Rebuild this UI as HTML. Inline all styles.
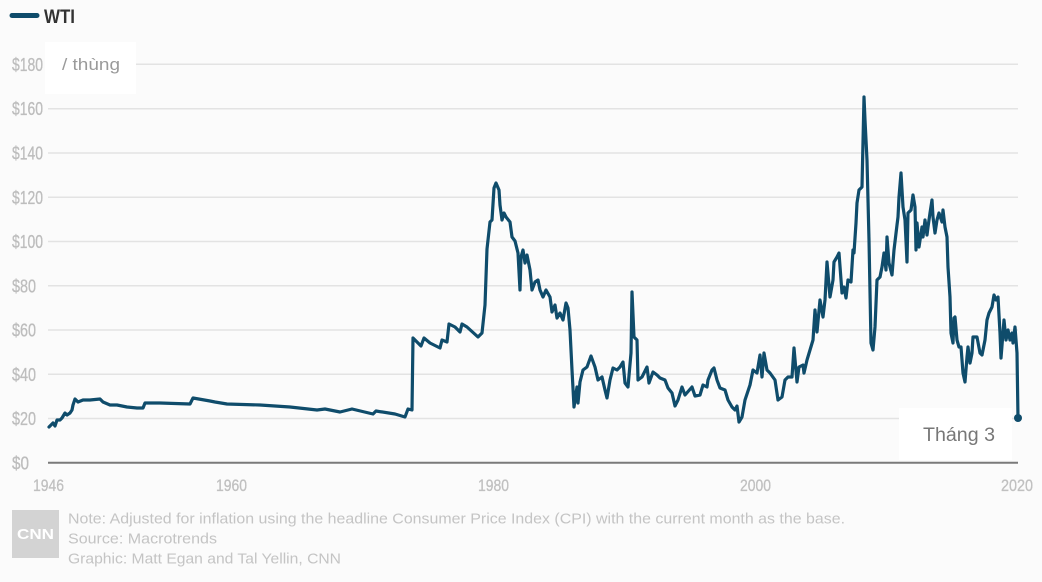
<!DOCTYPE html>
<html>
<head>
<meta charset="utf-8">
<style>
html,body{margin:0;padding:0;background:#fbfbfb;}
svg{display:block;}
</style>
</head>
<body>
<svg width="1042" height="582" viewBox="0 0 1042 582" xmlns="http://www.w3.org/2000/svg">
<rect x="0" y="0" width="1042" height="582" fill="#fbfbfb"/>
<!-- legend -->
<line x1="12" y1="15.5" x2="37" y2="15.5" stroke="#0f4c6b" stroke-width="5" stroke-linecap="round"/>
<text x="44" y="23" font-family="'Liberation Sans Narrow','Liberation Sans',sans-serif" font-weight="bold" font-size="19" fill="#333" textLength="31" lengthAdjust="spacingAndGlyphs">WTI</text>

<!-- gridlines -->
<g stroke="#e3e3e3" stroke-width="1.5">
<line x1="48" y1="64.3" x2="1018" y2="64.3"/>
<line x1="48" y1="108.7" x2="1018" y2="108.7"/>
<line x1="48" y1="153" x2="1018" y2="153"/>
<line x1="48" y1="197.3" x2="1018" y2="197.3"/>
<line x1="48" y1="241.5" x2="1018" y2="241.5"/>
<line x1="48" y1="285.8" x2="1018" y2="285.8"/>
<line x1="48" y1="330" x2="1018" y2="330"/>
<line x1="48" y1="374.3" x2="1018" y2="374.3"/>
<line x1="48" y1="418.5" x2="1018" y2="418.5"/>
</g>

<!-- unit box -->
<rect x="45" y="42" width="91" height="52" fill="#ffffff"/>
<text x="62" y="70" font-family="'Liberation Sans',sans-serif" font-size="17" fill="#9a9a9a" textLength="58" lengthAdjust="spacingAndGlyphs">/ thùng</text>

<!-- y labels -->
<g font-family="'Liberation Sans Narrow','Liberation Sans',sans-serif" font-size="18" fill="#bdbdbd" stroke="#bdbdbd" stroke-width="0.3">
<text x="12" y="70.8" textLength="31" lengthAdjust="spacingAndGlyphs">$180</text>
<text x="12" y="115.2" textLength="31" lengthAdjust="spacingAndGlyphs">$160</text>
<text x="12" y="159.5" textLength="31" lengthAdjust="spacingAndGlyphs">$140</text>
<text x="12" y="203.8" textLength="31" lengthAdjust="spacingAndGlyphs">$120</text>
<text x="12" y="248" textLength="31" lengthAdjust="spacingAndGlyphs">$100</text>
<text x="12" y="292.3" textLength="24" lengthAdjust="spacingAndGlyphs">$80</text>
<text x="12" y="336.5" textLength="24" lengthAdjust="spacingAndGlyphs">$60</text>
<text x="12" y="380.8" textLength="24" lengthAdjust="spacingAndGlyphs">$40</text>
<text x="12" y="425" textLength="24" lengthAdjust="spacingAndGlyphs">$20</text>
<text x="12" y="469.3" textLength="17" lengthAdjust="spacingAndGlyphs">$0</text>
</g>

<!-- Thang 3 box -->
<rect x="899" y="408" width="113" height="52" fill="#ffffff"/>
<text x="923" y="441" font-family="'Liberation Sans',sans-serif" font-size="19" fill="#777" textLength="72" lengthAdjust="spacingAndGlyphs">Tháng 3</text>

<!-- baseline -->
<line x1="48" y1="462.7" x2="1018" y2="462.7" stroke="#7a7a7a" stroke-width="2"/>

<!-- x labels -->
<g font-family="'Liberation Sans Narrow','Liberation Sans',sans-serif" font-size="16.5" fill="#c0c0c0" stroke="#c0c0c0" stroke-width="0.3">
<text x="33" y="491" textLength="31" lengthAdjust="spacingAndGlyphs">1946</text>
<text x="216" y="491" textLength="31" lengthAdjust="spacingAndGlyphs">1960</text>
<text x="478" y="491" textLength="31" lengthAdjust="spacingAndGlyphs">1980</text>
<text x="740" y="491" textLength="31" lengthAdjust="spacingAndGlyphs">2000</text>
<text x="1001" y="491" textLength="32" lengthAdjust="spacingAndGlyphs">2020</text>
</g>

<!-- series -->
<polyline fill="none" stroke="#0f4c6b" stroke-width="3.2" stroke-linejoin="round" stroke-linecap="round" points="
49,427 53,423 55,426 57,420 60,420 62,418 65,413 67,415 70,413 72,410 73,405 75,399 78,402 83,400 90,400 100,399 103,402 110,405 117,405 127,407 137,408 143,408 145,403 160,403 190,404 193,398 210,401 215,402 227,404 260,405 290,407 317,410 325,409 340,412 352,409 373,414 376,411 395,414 405,417 408,409 412,410 413,338 416,341 421,346 424,338 430,343 440,348 442,340 447,342 449,324 455,327 460,332 462,324 467,327 478,337 482,333 485,305 487,249 490,222 492,220 494,188 496,183 499,190 500,205 502,220 504,213 506,217 510,222 512,237 515,241 518,253 520,290 521,257 523,250 525,263 527,255 530,270 532,290 535,282 538,280 540,290 543,297 546,290 550,297 552,312 555,305 557,318 560,313 563,320 566,303 568,308 570,330 572,370 574,407 577,387 578,403 580,382 583,370 587,367 591,356 595,367 598,380 602,377 605,390 607,398 610,380 613,368 617,370 620,367 623,362 625,383 628,387 631,353 632,292 634,337 637,340 638,380 642,377 647,367 649,383 653,372 657,375 660,378 665,380 668,388 672,393 675,406 678,400 682,387 685,395 692,387 695,396 700,395 703,385 707,387 708,380 712,370 714,368 717,380 720,388 725,390 728,400 732,407 735,410 737,406 739,422 742,417 745,400 750,385 753,370 757,373 760,355 762,377 764,353 767,370 770,373 775,380 778,400 782,397 785,380 788,377 792,377 794,348 797,382 799,367 803,365 804,373 807,360 810,350 813,340 815,310 817,332 820,300 823,317 825,300 827,262 830,297 833,280 834,262 837,257 839,253 842,293 844,287 846,298 848,280 851,282 853,250 854,253 856,223 857,203 859,190 862,187 864,97 865,120 867,160 869,240 871,343 873,350 875,327 877,280 880,277 882,267 884,253 886,270 887,237 889,263 892,275 894,250 897,225 898,217 899,197 901,173 903,207 905,220 907,262 908,213 911,210 913,195 915,207 916,250 917,223 919,247 922,227 923,237 925,220 927,235 928,227 930,213 932,200 933,217 935,233 937,220 939,213 942,222 943,210 945,227 947,237 948,267 950,297 951,333 953,343 954,318 955,317 957,340 959,347 961,347 963,373 965,382 967,357 968,347 970,363 972,353 973,337 977,337 980,353 982,355 985,340 987,320 989,313 992,307 994,295 996,300 998,297 1000,333 1001,358 1003,333 1004,320 1006,340 1008,330 1010,340 1012,333 1013,343 1015,327 1017,353 1018,418"/>
<circle cx="1018" cy="418" r="4" fill="#0f4c6b"/>

<!-- footer -->
<rect x="12" y="510" width="47" height="48" fill="#d3d3d3"/>
<text x="35.5" y="539" text-anchor="middle" font-family="'Liberation Sans',sans-serif" font-weight="bold" font-size="15" fill="#ffffff" textLength="37" lengthAdjust="spacingAndGlyphs">CNN</text>
<g font-family="'Liberation Sans',sans-serif" font-size="14.5" fill="#c4c4c4">
<text x="68" y="523.5" textLength="777" lengthAdjust="spacingAndGlyphs">Note: Adjusted for inflation using the headline Consumer Price Index (CPI) with the current month as the base.</text>
<text x="68" y="543.5" textLength="149" lengthAdjust="spacingAndGlyphs">Source: Macrotrends</text>
<text x="68" y="563.5" textLength="273" lengthAdjust="spacingAndGlyphs">Graphic: Matt Egan and Tal Yellin, CNN</text>
</g>
</svg>
</body>
</html>
